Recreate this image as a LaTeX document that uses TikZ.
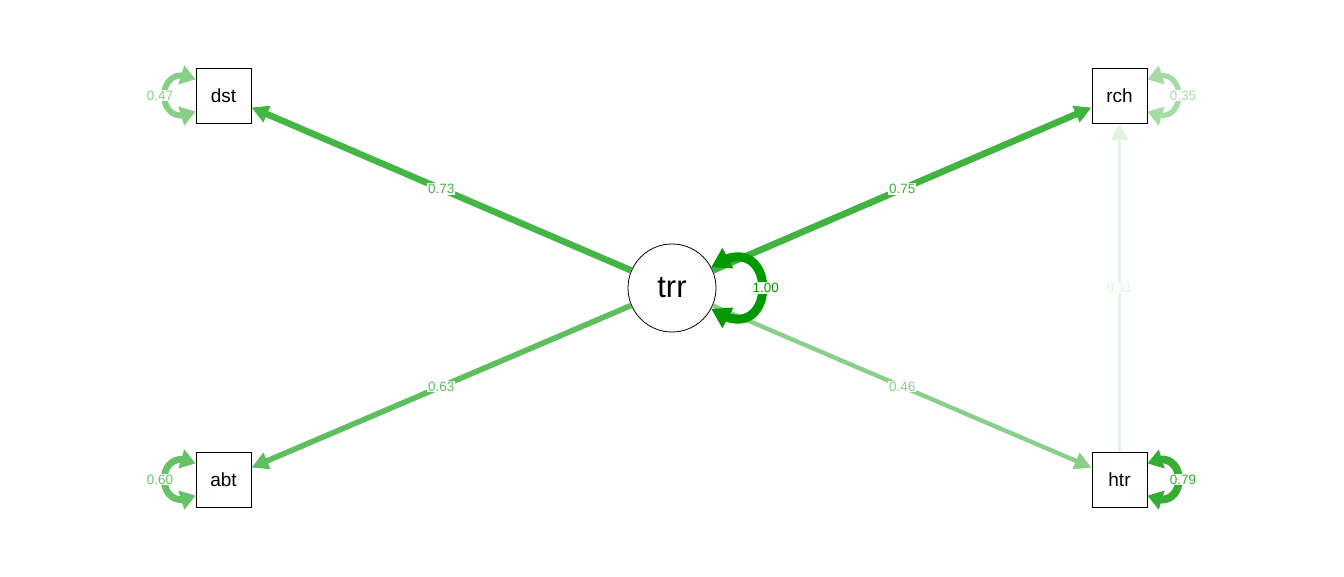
\documentclass[tikz,border=0pt]{standalone}
\usepackage{fontspec}
\setmainfont{Liberation Sans}
\usetikzlibrary{arrows.meta,bending}
\definecolor{cA}{RGB}{0,153,0}     % 1.00
\definecolor{cB}{RGB}{54,174,54}   % 0.79
\definecolor{cC}{RGB}{64,179,64}   % 0.75
\definecolor{cD}{RGB}{69,181,69}   % 0.73
\definecolor{cE}{RGB}{94,191,94}   % 0.63
\definecolor{cF}{RGB}{102,194,102} % 0.60
\definecolor{cG}{RGB}{135,207,135} % 0.47
\definecolor{cH}{RGB}{138,208,138} % 0.46
\definecolor{cI}{RGB}{166,219,166} % 0.35
\definecolor{cJ}{RGB}{226,243,226} % 0.11
\begin{document}
\begin{tikzpicture}[x=1pt,y=1pt,
  manifest/.style={draw=black, line width=0.8pt, minimum size=55pt, inner sep=0pt,
    font=\fontsize{19}{19}\selectfont, fill=white},
  latent/.style={circle, draw=black, line width=0.8pt, minimum size=88pt, inner sep=0pt,
    font=\fontsize{31}{31}\selectfont, fill=white},
  lbl/.style={fill=white, inner sep=1pt, font=\fontsize{13.5}{13.5}\selectfont},
  path/.style={-{Triangle[length=17pt,width=17pt]}},
  varloop/.style={{Triangle[length=15pt,width=19pt,flex]}-{Triangle[length=15pt,width=19pt,flex]}},
]
\useasboundingbox (0,0) rectangle (1344,576);

\node[latent]   (trr) at (672,288)     {trr};
\node[manifest] (dst) at (223.5,480.5) {dst};
\node[manifest] (rch) at (1119.5,480.5) {rch};
\node[manifest] (abt) at (223.5,96.5)  {abt};
\node[manifest] (htr) at (1119.5,96.5) {htr};

% loadings
\draw[path, line width=6.5pt, draw=cD] (trr) -- node[lbl, text=cD] {0.73} (dst);
\draw[path, line width=6.6pt, draw=cC] (trr) -- node[lbl, text=cC] {0.75} (rch);
\draw[path, line width=5.6pt, draw=cE] (trr) -- node[lbl, text=cE] {0.63} (abt);
\draw[path, line width=4.4pt, draw=cH] (trr) -- node[lbl, text=cH] {0.46} (htr);
\draw[path, line width=3pt, draw=cJ] (htr) -- node[lbl, text=cJ] {0.11} (rch);

% variances
\draw[varloop, line width=9pt, draw=cA, {Triangle[length=19pt,width=22pt,flex]}-{Triangle[length=19pt,width=22pt,flex]}]
  (trr.28) .. controls +(35:84) and +(-35:84) .. node[lbl, text=cA, xshift=3pt] {1.00} (trr.-28);
\draw[varloop, line width=6pt, draw=cG]
  (dst.150) .. controls +(-42,22) and +(-42,-22) .. node[lbl, text=cG, xshift=-4pt] {0.47} (dst.210);
\draw[varloop, line width=6.8pt, draw=cF]
  (abt.150) .. controls +(-42,22) and +(-42,-22) .. node[lbl, text=cF, xshift=-4pt] {0.60} (abt.210);
\draw[varloop, line width=5.4pt, draw=cI]
  (rch.30) .. controls +(42,22) and +(42,-22) .. node[lbl, text=cI, xshift=4pt] {0.35} (rch.-30);
\draw[varloop, line width=7.8pt, draw=cB]
  (htr.30) .. controls +(42,22) and +(42,-22) .. node[lbl, text=cB, xshift=4pt] {0.79} (htr.-30);
\end{tikzpicture}
\end{document}
